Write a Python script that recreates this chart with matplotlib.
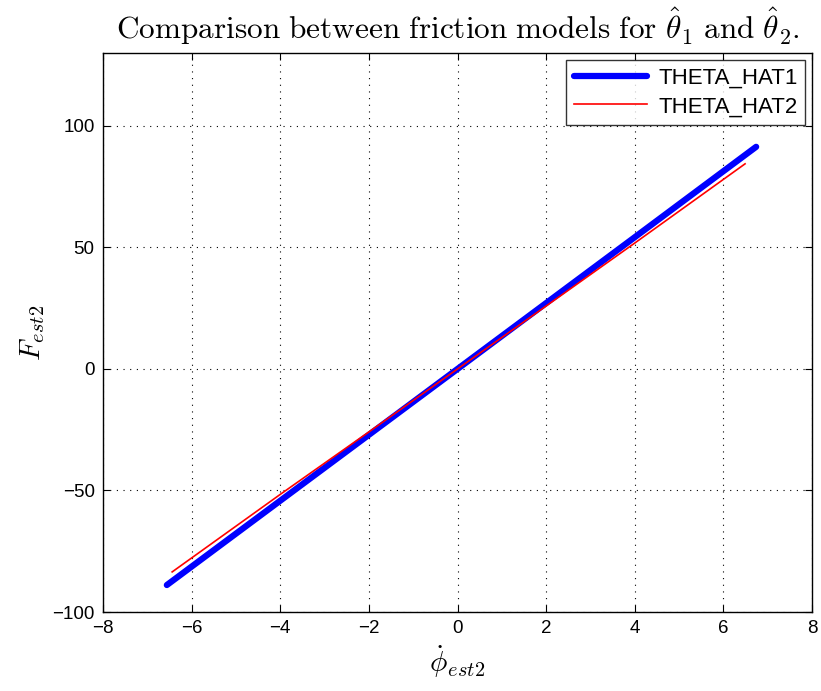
import matplotlib
matplotlib.use("Agg")
import matplotlib.pyplot as plt
import numpy as np

plt.rcParams['mathtext.fontset'] = 'cm'
plt.rcParams['font.family'] = ['Liberation Sans', 'DejaVu Sans']

# data
x_hat1 = [-6.56, -4.0, -2.0, 0.0, 2.0, 4.0, 6.74]
y_hat1 = [-88.9, -54.2, -27.1, 0.0, 27.1, 54.2, 91.4]
x_hat2 = [-6.44, -4.0, -2.0, 0.0, 2.0, 4.0, 6.49]
y_hat2 = [-83.5, -51.6, -25.9, 0.0, 25.9, 51.8, 84.4]

xticks = [-8, -6, -4, -2, 0, 2, 4, 6, 8]
yticks = [-100, -50, 0, 50, 100]

fig = plt.figure(figsize=(8.21, 6.91), dpi=100)
ax = fig.add_axes([0.1255, 0.1143, 0.8635, 0.809])

ax.plot(x_hat1, y_hat1, color='#0000ff', lw=4.5, solid_capstyle='round', label='THETA_HAT1')
ax.plot(x_hat2, y_hat2, color='#ff0000', lw=1.2, label='THETA_HAT2')

ax.set_xlim(-8, 8)
ax.set_ylim(-100, 130)
ax.set_xticks(xticks)
ax.set_yticks(yticks)
ax.set_xticklabels([str(t).replace('-', '\u2212') for t in xticks])
ax.set_yticklabels([str(t).replace('-', '\u2212') for t in yticks])
ax.tick_params(direction='in', top=True, right=True, labelsize=13.5, length=5, width=0.8, pad=6)
ax.grid(True, color='black', linestyle=(0, (1, 5)), linewidth=0.8)
for s in ax.spines.values():
    s.set_linewidth(1.0)

ax.set_title(r"$\mathrm{Comparison\ between\ friction\ models\ for\ }\hat{\theta}_1\mathrm{\ and\ }\hat{\theta}_2.$",
             fontsize=22.5, pad=10)
ax.set_xlabel(r"$\dot{\phi}_{est2}$", fontsize=21, labelpad=4)
ax.set_ylabel(r"$F_{est2}$", fontsize=21, labelpad=4)

leg = ax.legend(loc='upper right', fontsize=16, frameon=True, fancybox=False,
                edgecolor='black', borderaxespad=0.3, handlelength=3.3,
                borderpad=0.35, labelspacing=0.35, handletextpad=0.5)
leg.get_frame().set_linewidth(1.0)

fig.savefig('out.png', dpi=100)
